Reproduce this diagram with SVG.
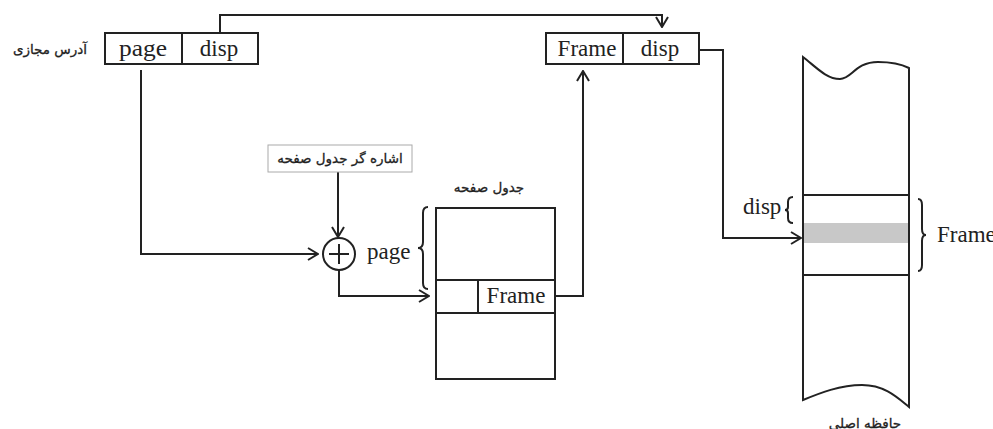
<svg xmlns="http://www.w3.org/2000/svg" width="993" height="429" viewBox="0 0 993 429">
<defs>
<marker id="ah" viewBox="0 0 12 14" refX="11" refY="7" markerWidth="12" markerHeight="14" orient="auto" markerUnits="userSpaceOnUse">
<path d="M1,1 L11,7 L1,13" fill="none" stroke="#222" stroke-width="2"/>
</marker>
</defs>
<style>
.box{fill:#fff;stroke:#222;stroke-width:2}
.ln{fill:none;stroke:#222;stroke-width:2}
.con{fill:none;stroke:#222;stroke-width:2;marker-end:url(#ah)}
.en{font-family:"Liberation Serif",serif;font-size:23px;fill:#222}
.fa{font-family:"DejaVu Sans",sans-serif;font-size:13.5px;fill:#222;stroke:#222;stroke-width:0.3}
</style>
<rect width="993" height="429" fill="#fff"/>

<g id="connectors">
<path class="con" d="M220,33 V15 H662 V27"/>
<path class="con" d="M141,70 V254 H318"/>
<path class="con" d="M338,172 V237"/>
<path class="con" d="M339,270 V296 H429"/>
<path class="con" d="M555,296 H583 V71"/>
<path class="con" d="M699,50 H723 V238 H801"/>
</g>

<g id="virtual-address">
<rect class="box" x="105" y="33" width="153" height="31"/>
<line class="ln" x1="182" y1="33" x2="182" y2="64"/>
<text class="en" x="143" y="56" text-anchor="middle" textLength="48" lengthAdjust="spacingAndGlyphs">page</text>
<text class="en" x="219" y="56" text-anchor="middle">disp</text>
<text class="fa" x="50" y="54" text-anchor="middle" direction="rtl">آدرس مجازی</text>
</g>

<g id="physical-address">
<rect class="box" x="546" y="33" width="153" height="31"/>
<line class="ln" x1="623" y1="33" x2="623" y2="64"/>
<text class="en" x="587" y="56" text-anchor="middle">Frame</text>
<text class="en" x="660" y="56" text-anchor="middle">disp</text>
</g>

<g id="page-table-pointer">
<rect x="268" y="145" width="144" height="27" fill="#fff" stroke="#aaa" stroke-width="1"/>
<text class="fa" x="340" y="163" text-anchor="middle" direction="rtl">اشاره گر جدول صفحه</text>
</g>

<g id="adder">
<circle cx="339" cy="254" r="16" class="box"/>
<line class="ln" x1="329" y1="254" x2="349" y2="254"/>
<line class="ln" x1="339" y1="244" x2="339" y2="264"/>
<text class="en" x="367" y="259">page</text>
<path class="ln" stroke-width="1.5" d="M428,207 Q423,207 423,213 L423,242 Q423,248 418,248 Q423,248 423,254 L423,283 Q423,289 428,289"/>
</g>

<g id="page-table">
<text class="fa" x="489" y="192" text-anchor="middle" direction="rtl">جدول صفحه</text>
<rect class="box" x="436" y="208" width="119" height="171"/>
<line class="ln" x1="436" y1="280" x2="555" y2="280"/>
<line class="ln" x1="436" y1="313" x2="555" y2="313"/>
<line class="ln" x1="478" y1="280" x2="478" y2="313"/>
<text class="en" x="516" y="303" text-anchor="middle">Frame</text>
</g>

<g id="main-memory">
<path class="box" d="M803,57 C815,66 826,79 840,79 C852,79 855,62 878,62 C893,62 903,65 909,68 L909,407 C898,398 885,385 862,385 C840,385 820,393 803,400 Z"/>
<rect x="804" y="223" width="104" height="20" fill="#c8c8c8"/>
<line class="ln" x1="803" y1="195" x2="909" y2="195"/>
<line class="ln" x1="803" y1="275" x2="909" y2="275"/>
<text class="en" x="743" y="214">disp</text>
<path class="ln" stroke-width="1.5" d="M793,197 Q788,197 788,202 L788,207 Q788,210 785,210 Q788,210 788,213 L788,218 Q788,223 793,223"/>
<path class="ln" stroke-width="1.5" d="M918,199 Q922,199 922,205 L922,229 Q922,235 926,235 Q922,235 922,241 L922,265 Q922,271 918,271"/>
<text class="en" x="937" y="242">Frame</text>
<text class="fa" x="865" y="428" text-anchor="middle" direction="rtl">حافظه اصلی</text>
</g>
</svg>
